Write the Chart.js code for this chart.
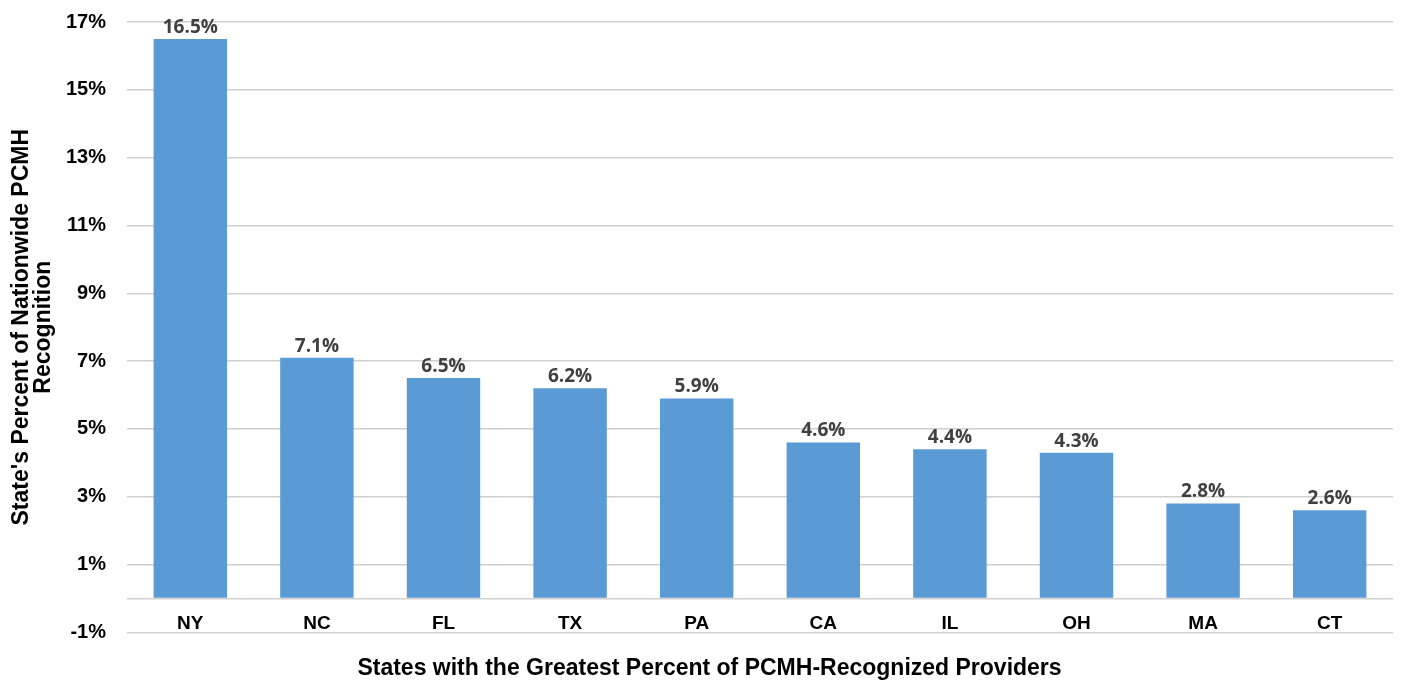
<!DOCTYPE html>
<html>
<head>
<meta charset="utf-8">
<script src="https://cdn.jsdelivr.net/npm/chart.js@4"></script>
<style>
  html, body { margin: 0; padding: 0; background: #fff; }
  #wrap { width: 1402px; height: 684px; }
</style>
</head>
<body>
<div id="wrap"><canvas id="pcmhChart" width="1402" height="684"></canvas></div>
<script>
// states and their share of nationwide PCMH recognition (%)
const states = ['NY', 'NC', 'FL', 'TX', 'PA', 'CA', 'IL', 'OH', 'MA', 'CT'];
const sharePct = [16.5, 7.1, 6.5, 6.2, 5.9, 4.6, 4.4, 4.3, 2.8, 2.6];
const yTicks = [-1, 1, 3, 5, 7, 9, 11, 13, 15, 17];

const fam = "'Liberation Sans', Arial, sans-serif";
const axisFont = { family: fam, size: 20, weight: 'bold' };

// value labels above bars
const barLabels = {
  id: 'barLabels',
  afterDatasetsDraw(chart) {
    const c = chart.ctx;
    const meta = chart.getDatasetMeta(0);
    c.save();
    c.font = "bold 19px 'Open Sans', 'Noto Sans', sans-serif";
    c.fillStyle = '#404040';
    c.textAlign = 'center';
    c.textBaseline = 'bottom';
    meta.data.forEach((bar, i) => {
      c.fillText(sharePct[i].toFixed(1) + '%', bar.x, bar.y - 2);
    });
    c.restore();
  }
};

const ctx = document.getElementById('pcmhChart').getContext('2d');
const myChart = new Chart(ctx, {
  type: 'bar',
  data: {
    labels: states,
    datasets: [{
      data: sharePct,
      backgroundColor: '#5b9bd5',
      borderWidth: 0,
      categoryPercentage: 1,
      barPercentage: 0.58
    }]
  },
  options: {
    responsive: false,
    animation: false,
    layout: { padding: { top: 0, right: 9, left: 26, bottom: 0 } },
    plugins: {
      legend: { display: false },
      tooltip: { enabled: false },
      title: {
        display: true,
        position: 'bottom',
        text: 'States with the Greatest Percent of PCMH-Recognized Providers',
        color: '#000',
        font: { family: fam, size: 23, weight: 'bold', lineHeight: 1.2 },
        padding: { top: 22, bottom: 2 }
      }
    },
    scales: {
      x: {
        position: { y: -1 },
        grid: { display: false, drawTicks: false },
        border: { display: false },
        ticks: { color: '#000', font: { family: fam, size: 19, weight: 'bold' }, padding: -20 }
      },
      y: {
        min: -1,
        max: 17,
        afterBuildTicks(scale) {
          scale.ticks = yTicks.map(v => ({ value: v }));
          scale.ticks.push({ value: 0 });
          scale.ticks.sort((a, b) => a.value - b.value);
        },
        afterFit(scale) {
          scale.width = 101;
          scale.paddingTop = 22;
          scale.paddingBottom = 0;
        },
        grid: { color: '#d0d0d0', lineWidth: 1.5, drawTicks: false },
        border: { display: false },
        ticks: {
          color: '#000',
          font: axisFont,
          padding: 21,
          callback: v => (v === 0 ? '' : v + '%')
        },
        title: {
          display: true,
          text: ["State's Percent of Nationwide PCMH", 'Recognition'],
          color: '#000',
          font: { family: fam, size: 23, weight: 'bold', lineHeight: 0.96 },
          padding: { top: -15, bottom: 0 }
        }
      }
    }
  },
  plugins: [barLabels]
});
</script>
</body>
</html>
